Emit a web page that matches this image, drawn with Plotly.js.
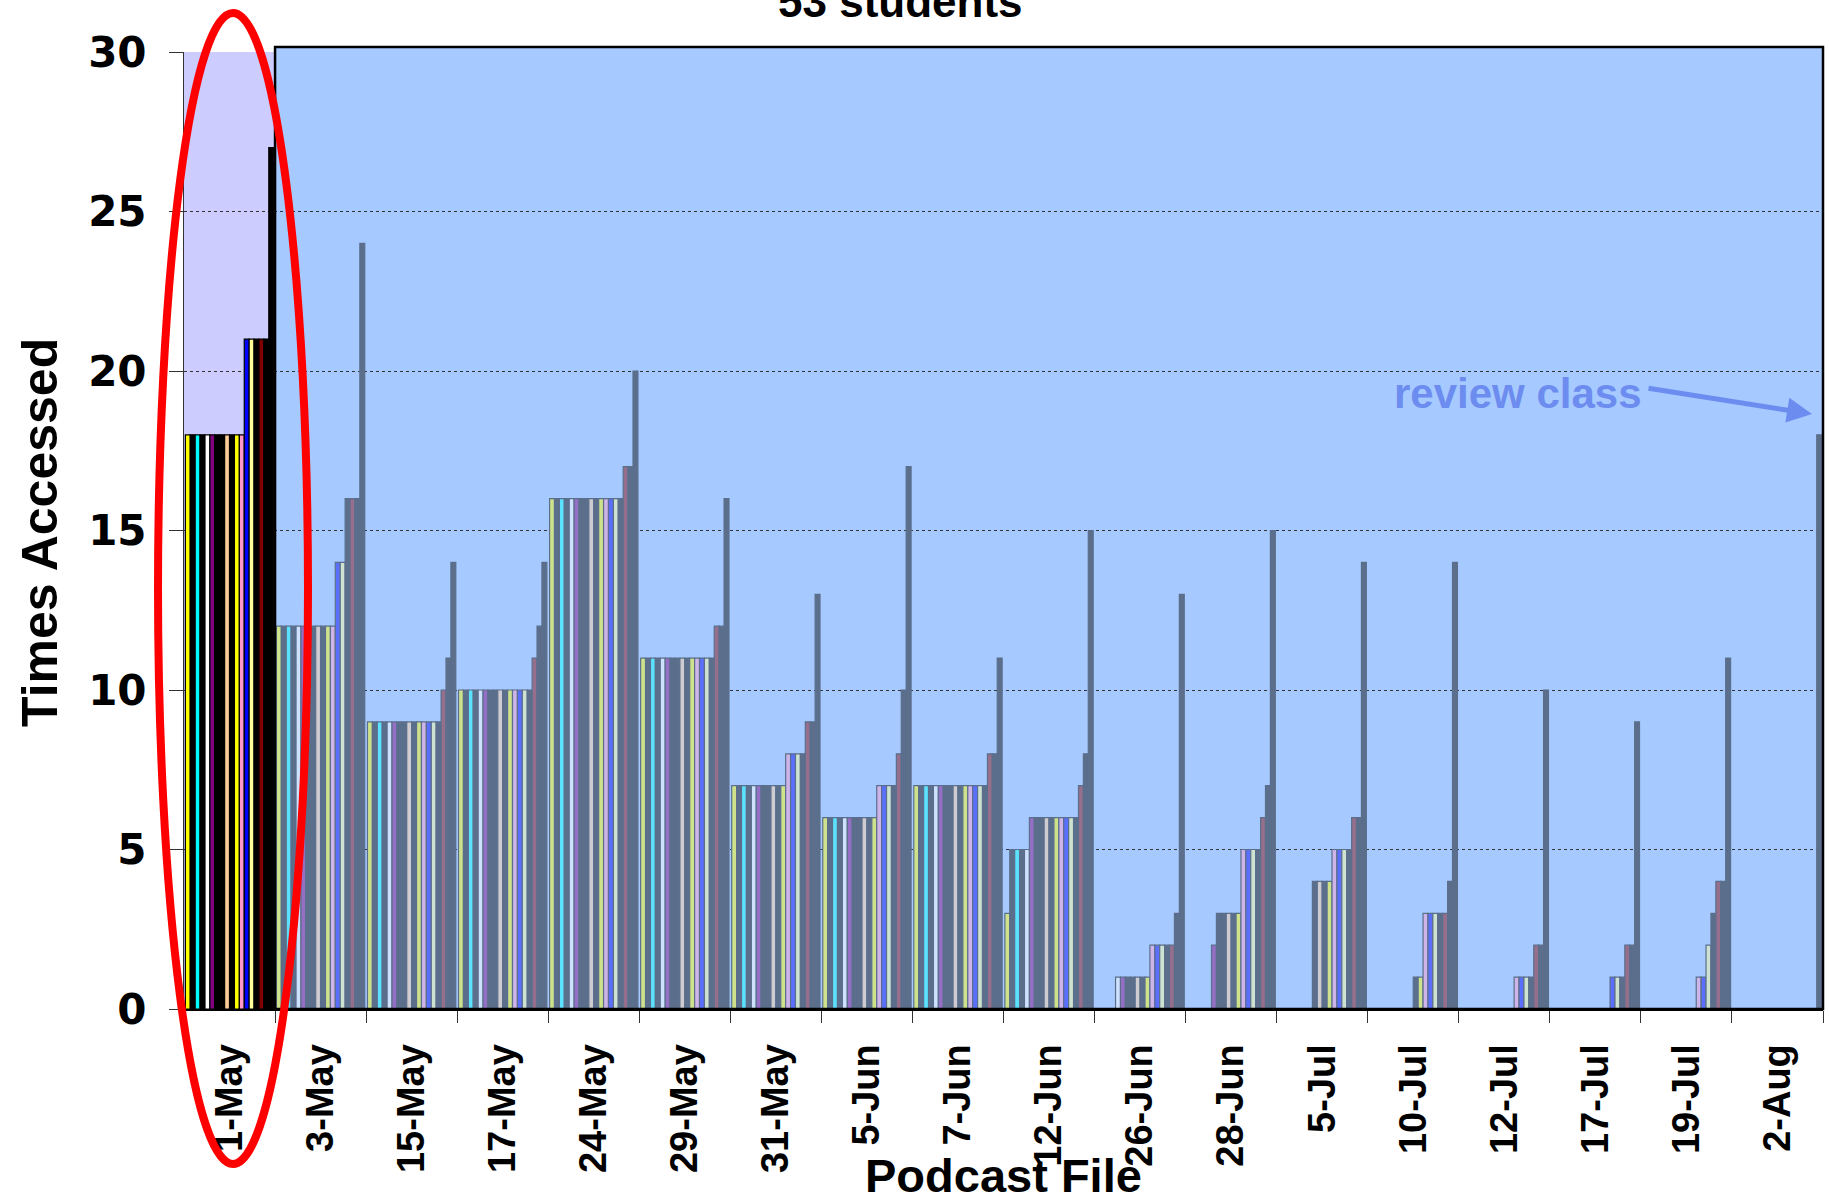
<!DOCTYPE html>
<html>
<head>
<meta charset="utf-8">
<script src="https://cdn.plot.ly/plotly-3.0.1.min.js"></script>
<style>
  html, body { margin: 0; padding: 0; background: #ffffff; }
  #chart { width: 1829px; height: 1199px; }
</style>
</head>
<body>
<div id="chart"></div>
<script>
// Podcast files (categories)
const categories = ['1-May','3-May','15-May','17-May','24-May','29-May','31-May','5-Jun','7-Jun','12-Jun','26-Jun','28-Jun','5-Jul','10-Jul','12-Jul','17-Jul','19-Jul','2-Aug'];

// Times accessed per podcast file, one value per snapshot series (18 series)
const may01 = [18,18,18,18,18,18,18,18,18,18,18,18,21,21,21,21,21,27];
const may03 = [12,12,12,12,12,12,12,12,12,12,12,12,14,14,16,16,16,24];
const may15 = [9,9,9,9,9,9,9,9,9,9,9,9,9,9,9,10,11,14];
const may17 = [10,10,10,10,10,10,10,10,10,10,10,10,10,10,10,11,12,14];
const may24 = [16,16,16,16,16,16,16,16,16,16,16,16,16,16,16,17,17,20];
const may29 = [11,11,11,11,11,11,11,11,11,11,11,11,11,11,11,12,12,16];
const may31 = [7,7,7,7,7,7,7,7,7,7,7,8,8,8,8,9,9,13];
const jun05 = [6,6,6,6,6,6,6,6,6,6,6,7,7,7,7,8,10,17];
const jun07 = [7,7,7,7,7,7,7,7,7,7,7,7,7,7,7,8,8,11];
const jun12 = [3,5,5,5,5,6,6,6,6,6,6,6,6,6,6,7,8,15];
const jun26 = [0,0,0,0,1,1,1,1,1,1,1,2,2,2,2,2,3,13];
const jun28 = [0,0,0,0,0,2,3,3,3,3,3,5,5,5,5,6,7,15];
const jul05 = [0,0,0,0,0,0,0,4,4,4,4,5,5,5,5,6,6,14];
const jul10 = [0,0,0,0,0,0,0,0,0,1,1,3,3,3,3,3,4,14];
const jul12 = [0,0,0,0,0,0,0,0,0,0,0,1,1,1,1,2,2,10];
const jul17 = [0,0,0,0,0,0,0,0,0,0,0,0,1,1,1,2,2,9];
const jul19 = [0,0,0,0,0,0,0,0,0,0,0,1,1,2,3,4,4,11];
const aug02 = [0,0,0,0,0,0,0,0,0,0,0,0,0,0,0,0,0,18];

const groupValues = [may01, may03, may15, may17, may24, may29, may31, jun05, jun07, jun12, jun26, jun28, jul05, jul10, jul12, jul17, jul19, aug02];

// Styles (kept separate from data)
const seriesColors = ['#FFFF00','#000000','#00FFFF','#000000','#FFFFFF','#800080','#000000','#000000','#FFCC99','#000000','#FFFF00','#FF99CC','#0000FF','#FFFF99','#000000','#800000','#000000','#000000'];
const overlayBg = [166, 202, 255];

function hexToRgb(h) {
  return [parseInt(h.slice(1,3),16), parseInt(h.slice(3,5),16), parseInt(h.slice(5,7),16)];
}
function tint(h) {
  const c = hexToRgb(h);
  const r = c.map((v, i) => Math.round(0.55 * overlayBg[i] + 0.45 * v));
  return 'rgb(' + r.join(',') + ')';
}

const nSeries = seriesColors.length;
const traces = [];
for (let s = 0; s < nSeries; s++) {
  traces.push({
    type: 'bar',
    name: 'Series ' + (s + 1),
    x: categories,
    y: groupValues.map(g => g[s]),
    marker: {
      color: categories.map((c, i) => i === 0 ? seriesColors[s] : tint(seriesColors[s])),
      line: {
        color: categories.map((c, i) => i === 0 ? '#000000' : tint('#000000')),
        width: 1.2
      }
    },
    hoverinfo: 'skip'
  });
}

const layout = {
  width: 1829,
  height: 1199,
  margin: {l: 184, r: 6, t: 52, b: 190, pad: 0},
  paper_bgcolor: '#ffffff',
  plot_bgcolor: '#CCCCFF',
  barmode: 'group',
  bargap: 0.03,
  bargroupgap: 0,
  showlegend: false,
  xaxis: {
    type: 'category',
    tickson: 'boundaries',
    ticks: 'outside',
    ticklen: 12,
    tickwidth: 1,
    tickcolor: '#333333',
    tickangle: -90,
    ticklabelstandoff: 18,
    tickfont: {family: 'Liberation Sans, Arial, sans-serif', size: 38, color: '#000000', weight: 700},
    showline: true,
    linecolor: '#000000',
    linewidth: 2,
    showgrid: false,
    zeroline: false
  },
  yaxis: {
    range: [0, 30],
    tick0: 0,
    dtick: 5,
    ticks: 'outside',
    ticklen: 14,
    tickwidth: 1,
    tickcolor: '#333333',
    ticklabelstandoff: 14,
    tickfont: {family: 'DejaVu Sans, sans-serif', size: 42, color: '#000000', weight: 700},
    showline: true,
    linecolor: '#333333',
    linewidth: 1,
    showgrid: true,
    gridcolor: '#333333',
    gridwidth: 1,
    griddash: 'dot',
    zeroline: false
  },
  shapes: [
    {type: 'rect', xref: 'paper', yref: 'paper', x0: 1/18, x1: 1, y0: 0, y1: 1.0052,
     fillcolor: '#A6CAFF', line: {width: 0}, layer: 'below'},
    {type: 'rect', xref: 'paper', yref: 'paper', x0: 1/18, x1: 1, y0: 0, y1: 1.0052,
     fillcolor: 'rgba(0,0,0,0)', line: {color: '#000000', width: 2.5}, layer: 'above'},
    {type: 'circle', xref: 'paper', yref: 'paper', x0: -0.01586, x1: 0.07566, y0: -0.162, y1: 1.0408,
     fillcolor: 'rgba(0,0,0,0)', line: {color: '#FF0000', width: 8}, layer: 'above'}
  ],
  annotations: [
    {text: '53 students', xref: 'paper', yref: 'paper', x: 0.4369, y: 1.0251,
     xanchor: 'center', yanchor: 'bottom', showarrow: false,
     font: {family: 'Liberation Sans, Arial, sans-serif', size: 44, color: '#000000', weight: 700}},
    {text: 'Times Accessed', xref: 'paper', yref: 'paper', x: -0.0879, y: 0.4984,
     xanchor: 'center', yanchor: 'middle', textangle: -90, showarrow: false,
     font: {family: 'Liberation Sans, Arial, sans-serif', size: 50, color: '#000000', weight: 700}},
    {text: 'Podcast File', xref: 'paper', yref: 'paper', x: 0.5, y: -0.1745,
     xanchor: 'center', yanchor: 'middle', showarrow: false,
     font: {family: 'Liberation Sans, Arial, sans-serif', size: 47, color: '#000000', weight: 700}},
    {text: 'review class', xref: 'paper', yref: 'y', x: 0.8139, y: 19.3,
     xanchor: 'center', yanchor: 'middle', showarrow: false,
     font: {family: 'Liberation Sans, Arial, sans-serif', size: 42, color: '#6D8CF0', weight: 700}},
    {text: '', xref: 'paper', yref: 'y', x: 0.9933, y: 18.65,
     showarrow: true, ax: -165, ay: -26, arrowhead: 2, arrowsize: 1, arrowwidth: 5,
     arrowcolor: '#6D8CF0', standoff: 0, startstandoff: 0}
  ]
};

Plotly.newPlot('chart', traces, layout, {displayModeBar: false, staticPlot: true});
</script>
</body>
</html>
